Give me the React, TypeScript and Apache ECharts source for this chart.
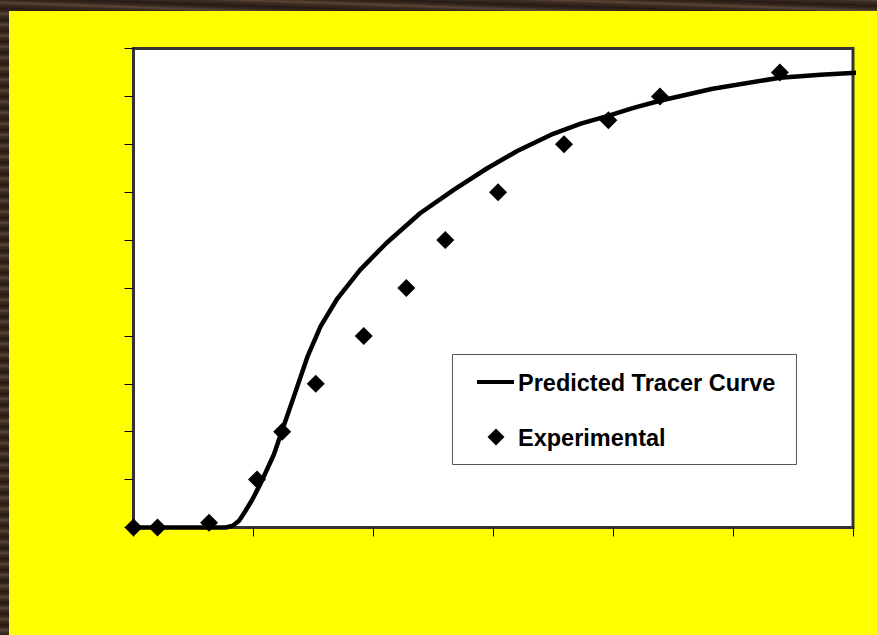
import React, { useEffect, useRef } from "react";
import * as echarts from "echarts";

// Predicted tracer curve (x, y)
const curveX = [0, 7.7, 8.3, 8.8, 9.2, 9.9, 10.6, 11.7, 12.4, 13.3, 14.5, 15.6, 17.0, 18.9, 21.1, 23.9, 26.7, 29.5, 32.0, 35.0, 37.3, 39.5, 41.7, 43.9, 48.3, 53.9, 57.3, 60.6];
const curveY = [0, 0, 0.004, 0.014, 0.029, 0.058, 0.092, 0.152, 0.203, 0.268, 0.356, 0.42, 0.478, 0.538, 0.594, 0.656, 0.705, 0.75, 0.786, 0.822, 0.843, 0.859, 0.876, 0.891, 0.916, 0.939, 0.945, 0.95];

// Experimental points
const expX = [0, 2.0, 6.3, 10.3, 12.4, 15.2, 19.2, 22.75, 26.0, 30.4, 35.9, 39.6, 43.9, 53.9];
const expY = [0, 0, 0.01, 0.1, 0.2, 0.3, 0.4, 0.5, 0.6, 0.7, 0.8, 0.85, 0.9, 0.95];

const seriesNames = ["Predicted Tracer Curve", "Experimental"];

export default function App() {
  const ref = useRef<HTMLDivElement>(null);

  useEffect(() => {
    if (!ref.current) return;
    const chart = echarts.init(ref.current, undefined, { renderer: "svg" });
    const tick = { show: true, inside: false, length: 9, lineStyle: { color: "#000", width: 1 } };
    const legendFont = "bold 23.5px 'Liberation Sans', Arial, sans-serif";
    chart.setOption({
      animation: false,
      backgroundColor: "transparent",
      grid: {
        left: 133.5,
        top: 48.5,
        right: 24,
        bottom: 107.5,
        show: true,
        backgroundColor: "#ffffff",
        borderColor: "#333333",
        borderWidth: 3,
      },
      legend: { show: false, data: seriesNames },
      graphic: [
        {
          type: "group",
          z: 100,
          children: [
            {
              type: "rect",
              shape: { x: 452.5, y: 354.5, width: 344, height: 110 },
              style: { fill: "#ffffff", stroke: "#555555", lineWidth: 1 },
            },
            {
              type: "line",
              shape: { x1: 477, y1: 382, x2: 514, y2: 382 },
              style: { stroke: "#000", lineWidth: 4 },
            },
            {
              type: "text",
              x: 518,
              y: 383,
              style: { text: seriesNames[0], font: legendFont, fill: "#000", verticalAlign: "middle" },
            },
            {
              type: "polygon",
              shape: { points: [[496, 428.5], [504.5, 437], [496, 445.5], [487.5, 437]] },
              style: { fill: "#000" },
            },
            {
              type: "text",
              x: 518,
              y: 438,
              style: { text: seriesNames[1], font: legendFont, fill: "#000", verticalAlign: "middle" },
            },
          ],
        },
      ],
      xAxis: {
        type: "value",
        min: 0,
        max: 60,
        interval: 10,
        axisLine: { show: false },
        axisTick: tick,
        axisLabel: { show: false },
        splitLine: { show: false },
      },
      yAxis: {
        type: "value",
        min: 0,
        max: 1,
        interval: 0.1,
        axisLine: { show: false },
        axisTick: tick,
        axisLabel: { show: false },
        splitLine: { show: false },
      },
      series: [
        {
          name: seriesNames[0],
          type: "line",
          data: curveX.map((x, i) => [x, curveY[i]]),
          symbol: "none",
          smooth: false,
          clip: false,
          lineStyle: { color: "#000", width: 4.5, join: "round", cap: "round" },
          itemStyle: { color: "#000" },
          z: 3,
        },
        {
          name: seriesNames[1],
          type: "scatter",
          data: expX.map((x, i) => [x, expY[i]]),
          symbol: "diamond",
          symbolSize: 18,
          clip: false,
          itemStyle: { color: "#000", opacity: 1 },
          z: 4,
        },
      ],
    });
    return () => chart.dispose();
  }, []);

  return (
    <div
      style={{
        position: "fixed",
        left: 0,
        top: 0,
        width: 877,
        height: 635,
        overflow: "hidden",
        background:
          "repeating-linear-gradient(2deg, #2f2119 0px, #3d2c21 3px, #5a4636 5px, #33251b 8px, #241a13 11px), #2f2119",
      }}
    >
      <div style={{ position: "absolute", left: 9, top: 11, right: 0, bottom: 0, background: "#ffff00" }} />
      <div ref={ref} style={{ position: "absolute", left: 0, top: 0, width: 877, height: 635 }} />
    </div>
  );
}
